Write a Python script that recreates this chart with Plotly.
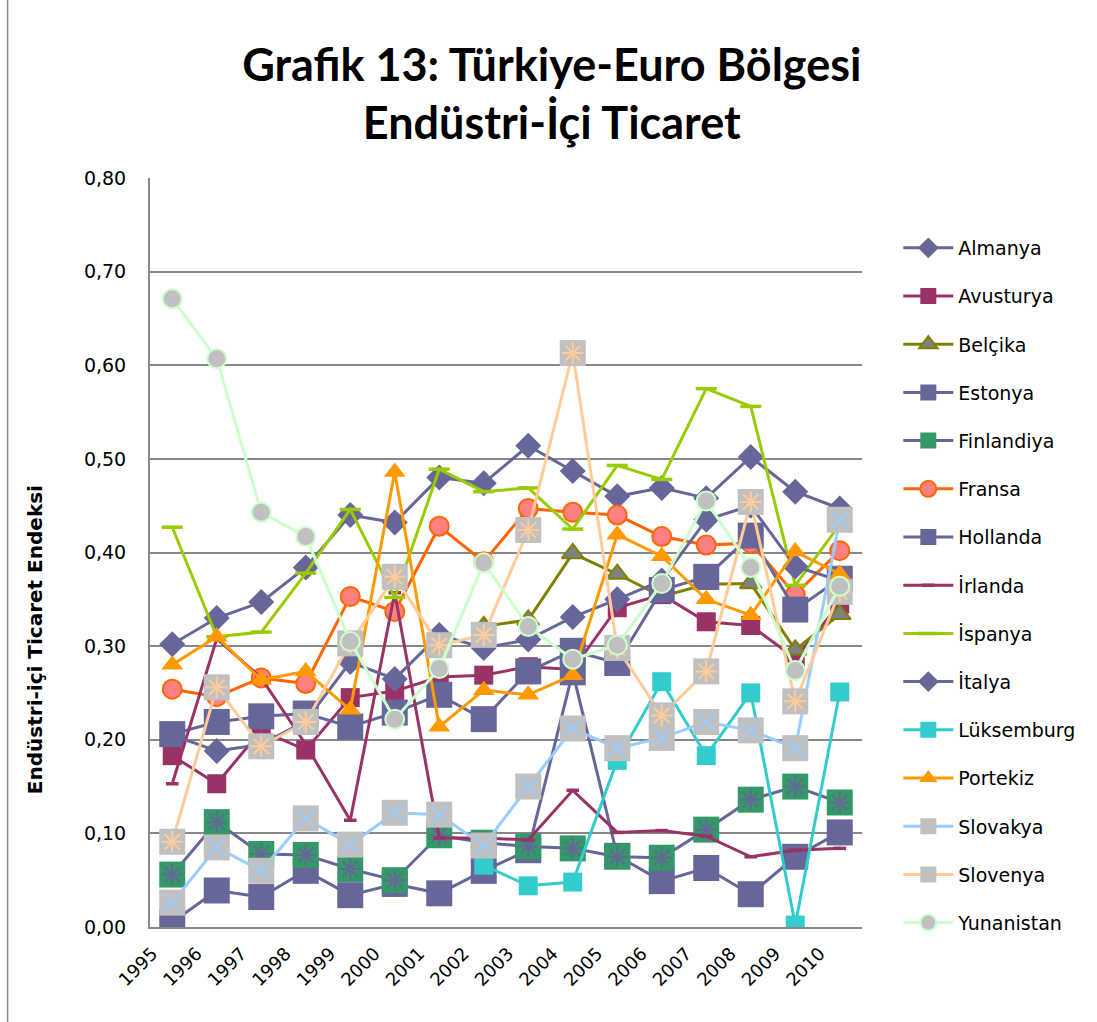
import plotly.graph_objects as go

years = ['1995', '1996', '1997', '1998', '1999', '2000', '2001', '2002',
         '2003', '2004', '2005', '2006', '2007', '2008', '2009', '2010']

almanya = [0.302, 0.330, 0.347, 0.384, 0.440, 0.432, 0.480, 0.474, 0.514, 0.487, 0.460, 0.469, 0.458, 0.502, 0.465, 0.447]
avusturya = [0.183, 0.153, 0.210, 0.189, 0.245, 0.252, 0.267, 0.269, 0.278, 0.275, 0.341, 0.355, 0.326, 0.322, 0.287, 0.345]
belcika = [None, None, None, None, None, None, None, 0.321, 0.328, 0.399, 0.377, 0.353, 0.366, 0.367, 0.296, 0.334]
estonya = [0.005, 0.039, 0.032, 0.060, 0.034, 0.046, 0.036, 0.060, 0.082, 0.272, 0.076, 0.049, 0.063, 0.035, 0.075, 0.101]
finlandiya = [0.056, 0.112, 0.078, 0.077, 0.062, 0.050, 0.098, 0.090, 0.086, 0.084, 0.075, 0.074, 0.104, 0.136, 0.150, 0.133]
fransa = [0.254, 0.246, 0.266, 0.260, 0.353, 0.337, 0.428, 0.390, 0.447, 0.443, 0.440, 0.417, 0.408, 0.410, 0.355, 0.402]
hollanda = [0.206, 0.219, 0.225, 0.228, 0.214, 0.229, 0.248, 0.222, 0.273, 0.295, 0.282, 0.360, 0.374, 0.418, 0.339, 0.372]
irlanda = [0.153, 0.308, 0.266, 0.195, 0.114, 0.357, 0.095, 0.095, 0.093, 0.146, 0.101, 0.103, 0.097, 0.075, 0.082, 0.084]
ispanya = [0.427, 0.310, 0.315, 0.378, 0.446, 0.352, 0.489, 0.465, 0.469, 0.425, 0.493, 0.478, 0.575, 0.556, 0.365, 0.430]
italya = [0.205, 0.188, 0.195, 0.220, 0.283, 0.265, 0.312, 0.298, 0.307, 0.331, 0.350, 0.370, 0.435, 0.450, 0.385, 0.370]
luksemburg = [None, None, None, None, None, None, None, 0.066, 0.044, 0.048, 0.178, 0.262, 0.183, 0.250, 0.002, 0.251]
portekiz = [0.280, 0.310, 0.264, 0.273, 0.232, 0.486, 0.214, 0.253, 0.248, 0.269, 0.419, 0.396, 0.350, 0.333, 0.401, 0.377]
slovakya = [0.026, 0.085, 0.060, 0.116, 0.088, 0.122, 0.120, 0.087, 0.150, 0.212, 0.191, 0.202, 0.219, 0.210, 0.191, 0.435]
slovenya = [0.091, 0.256, 0.193, 0.219, 0.303, 0.374, 0.301, 0.312, 0.424, 0.613, 0.298, 0.226, 0.273, 0.454, 0.241, 0.358]
yunanistan = [0.671, 0.607, 0.443, 0.417, 0.305, 0.222, 0.276, 0.389, 0.321, 0.286, 0.301, 0.367, 0.455, 0.384, 0.274, 0.364]

y_ticks = [0.0, 0.1, 0.2, 0.3, 0.4, 0.5, 0.6, 0.7, 0.8]

# name, values, line color, marker symbol, marker size, marker fill, marker line color, marker line width, overlay
series = [
    ('Almanya', almanya, '#666699', 'diamond', 20, '#666699', '#666699', 0, None),
    ('Avusturya', avusturya, '#993366', 'square', 19, '#993366', '#993366', 0, None),
    ('Belçika', belcika, '#808000', 'triangle-up', 19, '#808080', '#808000', 2, None),
    ('Estonya', estonya, '#666699', 'square', 26, '#666699', '#666699', 0, None),
    ('Finlandiya', finlandiya, '#666699', 'square', 26, '#339966', '#339966', 0, ('asterisk-open', '#666699', 18)),
    ('Fransa', fransa, '#FF6600', 'circle', 19, '#FF8080', '#FF6600', 2, None),
    ('Hollanda', hollanda, '#666699', 'square', 26, '#666699', '#666699', 0, None),
    ('İrlanda', irlanda, '#993366', 'line-ew-open', 9, '#993366', '#993366', 3.5, None),
    ('İspanya', ispanya, '#99CC00', 'line-ew-open', 15, '#99CC00', '#99CC00', 3.5, None),
    ('İtalya', italya, '#666699', 'diamond', 20, '#666699', '#666699', 0, None),
    ('Lüksemburg', luksemburg, '#33CCCC', 'square', 19, '#33CCCC', '#33CCCC', 0, None),
    ('Portekiz', portekiz, '#FF9900', 'triangle-up', 19, '#FF9900', '#FF9900', 0, None),
    ('Slovakya', slovakya, '#99CCFF', 'square', 26, '#C0C0C0', '#C0C0C0', 0, ('x-thin-open', '#99CCFF', 16)),
    ('Slovenya', slovenya, '#FFCC99', 'square', 26, '#C0C0C0', '#C0C0C0', 0, ('asterisk-open', '#FFCC99', 18)),
    ('Yunanistan', yunanistan, '#CCFFCC', 'circle', 19, '#C0C0C0', '#CCFFCC', 2, None),
]

fig = go.Figure()
for name, vals, lc, sym, size, fill, mlc, mlw, overlay in series:
    fig.add_trace(go.Scatter(
        x=years, y=vals, name=name, mode='lines+markers',
        legendgroup=name,
        line=dict(color=lc, width=3),
        marker=dict(symbol=sym, size=size, color=fill,
                    line=dict(color=mlc, width=mlw)),
        connectgaps=False,
    ))
    if overlay is not None:
        osym, ocol, osize = overlay
        fig.add_trace(go.Scatter(
            x=years, y=vals, name=name, mode='markers',
            legendgroup=name, showlegend=False,
            marker=dict(symbol=osym, size=osize, color=ocol,
                        line=dict(color=ocol, width=2)),
            hoverinfo='skip',
        ))

fig.update_layout(
    width=1097, height=1022,
    paper_bgcolor='white', plot_bgcolor='white',
    separators=',.',
    margin=dict(l=150, r=235, t=178, b=95),
    title=dict(
        text='Grafik 13: Türkiye-Euro Bölgesi<br>Endüstri-İçi Ticaret',
        x=0.503, xref='container', xanchor='center',
        y=0.921, yref='container', yanchor='top',
        font=dict(family='Lato', size=45, color='black', weight='bold'),
    ),
    xaxis=dict(
        type='category', range=[-0.5, 15.5], automargin=False,
        tickangle=-45, ticks='', ticklabelshift=-20, ticklabelstandoff=7,
        tickfont=dict(family='DejaVu Sans', size=18, color='black'),
        showgrid=False, showline=True, linecolor='#888888', linewidth=2,
        zeroline=False,
    ),
    yaxis=dict(
        range=[0, 0.8], tickvals=y_ticks, tickformat='.2f', automargin=False,
        tickfont=dict(family='DejaVu Sans', size=19, color='black'),
        ticklabelstandoff=18,
        showgrid=True, gridcolor='#888888', gridwidth=2,
        showline=True, linecolor='#888888', linewidth=2,
        zeroline=False,
    ),
    legend=dict(
        x=1.051, xanchor='left', y=0.932, yanchor='top',
        font=dict(family='DejaVu Sans', size=19, color='black'),
        tracegroupgap=20.5, itemwidth=50,
        bgcolor='rgba(0,0,0,0)',
    ),
    showlegend=True,
)

fig.add_annotation(
    text='<b>Endüstri-içi Ticaret Endeksi</b>',
    xref='paper', yref='paper', x=-0.1615, y=0.383,
    xanchor='center', yanchor='middle', textangle=-90, showarrow=False,
    font=dict(family='DejaVu Sans', size=20, color='black'),
)

fig.add_shape(type='line', xref='paper', yref='paper',
              x0=-0.2, x1=-0.2, y0=-0.2, y1=1.25,
              line=dict(color='#888888', width=1.5))

fig.write_html('out.html', config={'displayModeBar': False},
               post_script="document.body.style.margin='0px';")
